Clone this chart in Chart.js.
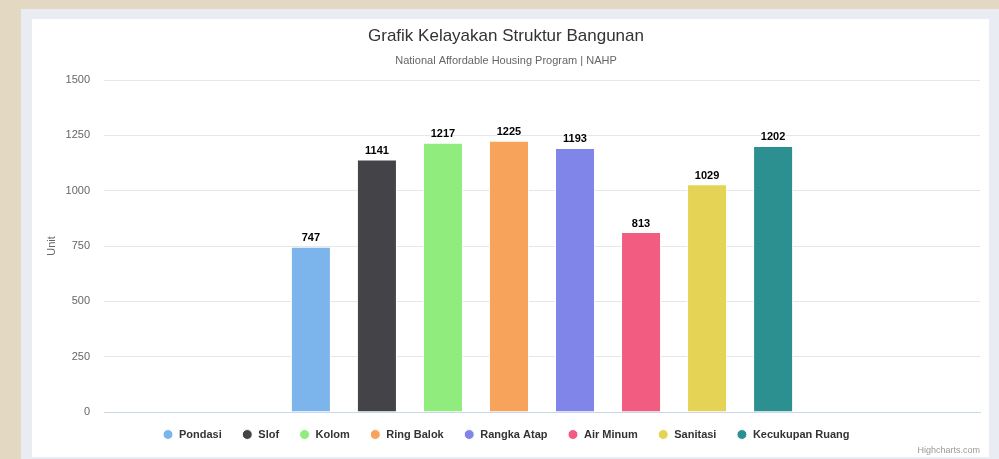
<!DOCTYPE html>
<html>
<head>
<meta charset="utf-8">
<script src="https://cdn.jsdelivr.net/npm/chart.js@4"></script>
<style>
    html, body { margin: 0; padding: 0; }
    body {
        width: 999px;
        height: 459px;
        overflow: hidden;
        position: relative;
        background: #e3d9c2;
        font-family: "Liberation Sans", Arial, sans-serif;
    }
    .panel {
        position: absolute;
        left: 21px;
        top: 9px;
        right: 0;
        bottom: 0;
        background: #e9edf3;
    }
    .card {
        position: absolute;
        left: 32px;
        top: 19px;
        width: 957px;
        height: 438px;
        background: #ffffff;
    }
    .credits {
        position: absolute;
        right: 19px;
        top: 445px;
        font-size: 9px;
        color: #999999;
    }
</style>
</head>
<body>
<div class="panel"></div>
<div class="card"><canvas id="chartCanvas"></canvas></div>
<div class="credits">Highcharts.com</div>

<script>
const seriesNames = ["Pondasi", "Slof", "Kolom", "Ring Balok", "Rangka Atap", "Air Minum", "Sanitasi", "Kecukupan Ruang"];
const seriesValues = [747, 1141, 1217, 1225, 1193, 813, 1029, 1202];
const seriesColors = ["#7cb5ec", "#434348", "#90ed7d", "#f7a35c", "#8085e9", "#f15c80", "#e4d354", "#2b908f"];
const categories = [""];
const yTicks = [0, 250, 500, 750, 1000, 1250, 1500];

const fontFamily = "'Liberation Sans', Arial, sans-serif";

// value labels above each column, white outline like highcharts
const barValues = {
    id: "barValues",
    afterDatasetsDraw(chart) {
        const ctx = chart.ctx;
        ctx.save();
        ctx.font = `bold 11px ${fontFamily}`;
        ctx.textAlign = "center";
        ctx.textBaseline = "bottom";
        ctx.lineJoin = "round";
        chart.data.datasets.forEach((ds, i) => {
            const meta = chart.getDatasetMeta(i);
            meta.data.forEach((bar, j) => {
                const text = String(ds.data[j]);
                ctx.lineWidth = 2;
                ctx.strokeStyle = "#ffffff";
                ctx.strokeText(text, bar.x, bar.y - 3);
                ctx.fillStyle = "#000000";
                ctx.fillText(text, bar.x, bar.y - 3);
            });
        });
        ctx.restore();
    },
};

// pull the legend a little closer to the plot
const legendNudge = {
    id: "legendNudge",
    afterLayout(chart) {
        if (chart.legend) {
            chart.legend.top -= 11;
            chart.legend.bottom -= 11;
        }
    },
};

const datasets = seriesNames.map((name, i) => ({
    label: name,
    data: [seriesValues[i]],
    backgroundColor: seriesColors[i],
    borderColor: "#ffffff",
    borderWidth: 1,
    categoryPercentage: 0.603,
    barPercentage: 0.606,
}));

new Chart(document.getElementById("chartCanvas"), {
    type: "bar",
    data: {
        labels: categories,
        datasets: datasets,
    },
    plugins: [barValues, legendNudge],
    options: {
        responsive: true,
        maintainAspectRatio: false,
        animation: false,
        layout: {
            padding: { top: 0, left: 0, right: 9, bottom: -4 },
        },
        plugins: {
            title: {
                display: true,
                text: "Grafik Kelayakan Struktur Bangunan",
                color: "#333333",
                font: { family: fontFamily, size: 17, weight: "normal" },
                padding: { top: 7, bottom: 8 },
            },
            subtitle: {
                display: true,
                text: "National Affordable Housing Program | NAHP",
                color: "#666666",
                font: { family: fontFamily, size: 11 },
                padding: { top: 0, bottom: 12.4 },
            },
            legend: {
                position: "bottom",
                labels: {
                    usePointStyle: true,
                    pointStyle: "circle",
                    boxHeight: 7,
                    padding: 20,
                    color: "#333333",
                    font: { family: fontFamily, size: 11, weight: "bold" },
                },
            },
            tooltip: { enabled: false },
        },
        scales: {
            x: {
                grid: { display: false },
                ticks: { display: false },
                border: { color: "#ccd6eb" },
            },
            y: {
                min: 0,
                max: 1500,
                afterBuildTicks: (scale) => {
                    scale.ticks = yTicks.map((v) => ({ value: v }));
                },
                afterFit: (scale) => {
                    scale.width = 72;
                },
                border: { display: false },
                grid: {
                    drawTicks: false,
                    color: (c) => (c.tick && c.tick.value === 0 ? "#ccd6eb" : "#e6e6e6"),
                },
                ticks: {
                    padding: 14,
                    color: "#666666",
                    font: { family: fontFamily, size: 11 },
                    callback: (value) => String(value),
                },
                title: {
                    display: true,
                    text: "Unit",
                    color: "#666666",
                    font: { family: fontFamily, size: 11 },
                    padding: { top: 13.4, bottom: 0 },
                },
            },
        },
    },
});
</script>
</body>
</html>
